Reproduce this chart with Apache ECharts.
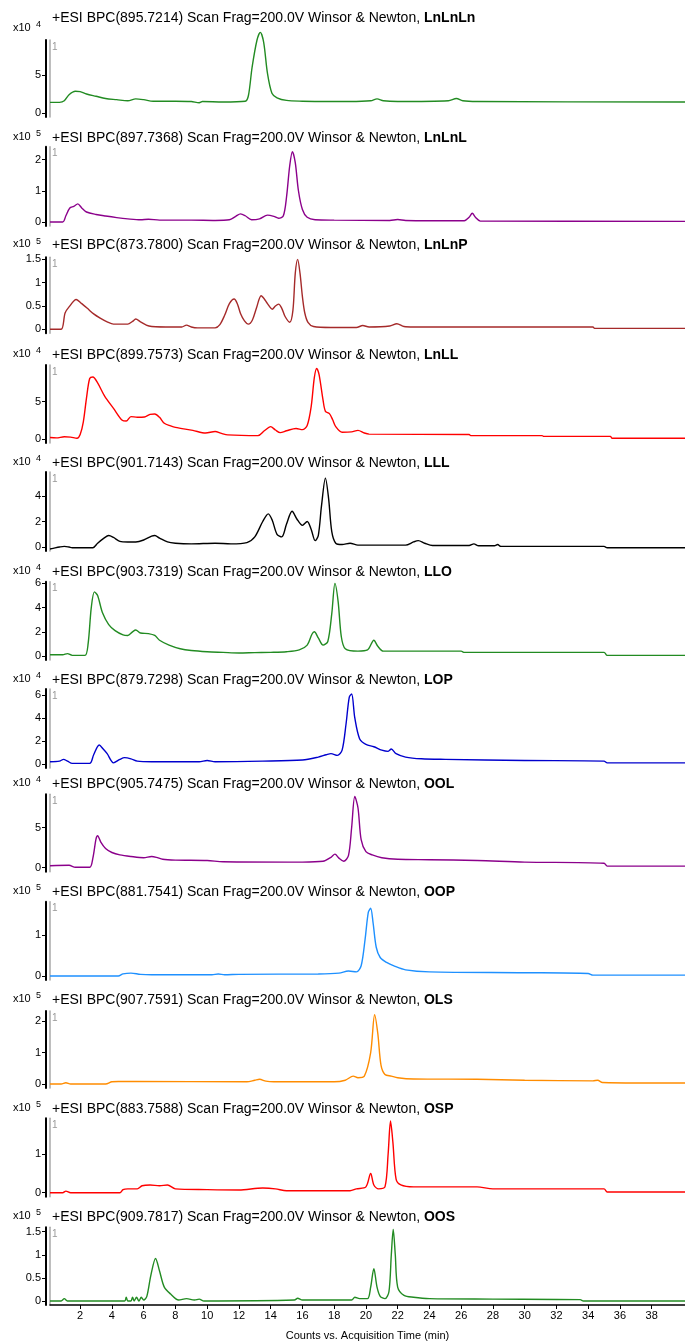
<!DOCTYPE html>
<html><head><meta charset="utf-8">
<script src="https://cdn.jsdelivr.net/npm/echarts@6/dist/echarts.min.js"></script>
<style>html,body{margin:0;padding:0;background:#fff}#c{width:685px;height:1343px}</style>
</head><body><div id="c"></div>
<script>
// ---- data ----
const compounds = ['LnLnLn','LnLnL','LnLnP','LnLL','LLL','LLO','LOP','OOL','OOP','OLS','OSP','OOS'];
const masses = ['895.7214','897.7368','873.7800','899.7573','901.7143','903.7319','879.7298','905.7475','881.7541','907.7591','883.7588','909.7817'];
const exponents = [4,5,5,4,4,4,4,4,5,5,5,5];
const yTicks = [[0,5],[0,1,2],[0,0.5,1,1.5],[0,5],[0,2,4],[0,2,4,6],[0,2,4,6],[0,5],[0,1],[0,1,2],[0,1],[0,0.5,1,1.5]];
const yMax = [9.6,2.41,1.545,9.9,5.88,6.14,6.52,9.18,1.81,2.32,1.92,1.595];
const yMin = [-0.53,-0.128,-0.086,-0.535,-0.31,-0.33,-0.35,-0.5,-0.098,-0.127,-0.103,-0.087];
const xTicks = [2,4,6,8,10,12,14,16,18,20,22,24,26,28,30,32,34,36,38];
const xRange = [0.1, 40.1];
const xName = 'Counts vs. Acquisition Time (min)';

const dLnLnLn = [[0.1,1.4],[0.7,1.4],[1.0,1.6],[1.3,2.4],[1.7,2.85],[2.0,2.8],[2.4,2.5],[3.0,2.2],[3.6,1.9],[4.3,1.75],[5.0,1.6],[5.5,1.85],[6.0,1.75],[6.6,1.55],[8,1.55],[9.0,1.5],[9.5,1.35],[9.7,1.5],[11,1.45],[12.4,1.55],[12.6,2.3],[12.83,6.0],[13.14,9.6],[13.35,10.6],[13.56,9.3],[13.8,5.2],[14.08,2.6],[14.4,2.0],[15,1.65],[16,1.55],[17.5,1.5],[19,1.5],[20.3,1.6],[20.7,1.85],[21.1,1.6],[22,1.5],[25.2,1.6],[25.7,1.9],[26.1,1.6],[27,1.5],[40.1,1.45]];
const dLnLnL = [[0.1,0],[0.9,0],[1.1,0.2],[1.35,0.45],[1.6,0.5],[1.85,0.58],[2.1,0.45],[2.4,0.32],[3.0,0.24],[3.6,0.19],[4.3,0.14],[5.0,0.1],[5.8,0.07],[6.3,0.09],[7.0,0.06],[9,0.06],[10.5,0.05],[11.4,0.07],[11.8,0.18],[12.1,0.26],[12.4,0.2],[12.8,0.07],[13.3,0.1],[13.8,0.22],[14.2,0.18],[14.5,0.12],[14.8,0.2],[15.0,0.8],[15.2,1.8],[15.37,2.25],[15.55,1.9],[15.75,1.0],[16.0,0.4],[16.3,0.15],[16.8,0.07],[18,0.06],[21.5,0.05],[22,0.08],[22.5,0.05],[26.2,0.04],[26.5,0.15],[26.7,0.28],[26.9,0.15],[27.2,0.03],[40.1,0.02]];
const dLnLnP = [[0.1,0],[0.8,0],[1.05,0.35],[1.3,0.48],[1.75,0.64],[2.1,0.55],[2.45,0.45],[2.85,0.33],[3.26,0.24],[3.7,0.16],[4.1,0.11],[5.0,0.11],[5.3,0.17],[5.5,0.22],[5.8,0.16],[6.33,0.07],[7.4,0.05],[8.4,0.05],[8.7,0.09],[9.0,0.05],[9.4,0.03],[10.5,0.03],[10.8,0.1],[11.1,0.3],[11.4,0.55],[11.7,0.65],[11.9,0.55],[12.1,0.34],[12.35,0.18],[12.6,0.11],[12.85,0.2],[13.1,0.45],[13.4,0.72],[13.6,0.65],[13.8,0.55],[14.1,0.43],[14.3,0.5],[14.5,0.54],[14.7,0.45],[14.9,0.28],[15.2,0.15],[15.4,0.4],[15.55,1.2],[15.7,1.5],[15.85,1.2],[16.0,0.7],[16.15,0.35],[16.35,0.15],[16.7,0.06],[17.8,0.04],[19.4,0.04],[19.8,0.08],[20.2,0.05],[21.5,0.07],[21.95,0.12],[22.4,0.06],[23,0.05],[34.3,0.05],[34.4,0.02],[40.1,0.02]];
const dLnLL = [[0.1,0.2],[0.5,0.15],[1.0,0.3],[1.4,0.25],[1.8,0.1],[2.0,0.6],[2.2,2.3],[2.4,5.5],[2.6,8.1],[2.8,8.3],[3.1,7.5],[3.55,5.7],[4.1,4.1],[4.65,2.5],[4.9,2.4],[5.2,3.0],[5.6,2.9],[6.05,2.95],[6.4,3.3],[6.7,3.35],[7.0,2.9],[7.3,2.1],[7.7,1.75],[8.0,1.55],[9.1,1.15],[9.9,0.8],[10.5,1.0],[10.9,0.75],[11.3,0.55],[13.2,0.45],[13.6,1.1],[14.0,1.65],[14.3,1.2],[14.6,0.85],[15.0,1.1],[15.6,1.4],[16.0,1.25],[16.3,1.8],[16.55,4.3],[16.75,8.2],[16.9,9.45],[17.05,8.6],[17.3,5.2],[17.45,3.7],[17.7,3.4],[17.9,2.6],[18.1,1.65],[18.5,0.9],[19.1,0.95],[19.5,1.15],[19.9,0.8],[20.2,0.65],[26.5,0.6],[26.6,0.45],[31.1,0.45],[31.2,0.35],[35.4,0.35],[35.5,0.1],[40.1,0.1]];
const dLLL = [[0.1,-0.15],[0.3,-0.1],[0.7,0],[1.0,0.05],[1.3,0],[1.5,-0.05],[2.8,-0.05],[3.1,0.3],[3.5,0.7],[3.8,0.9],[4.1,0.75],[4.5,0.45],[5.0,0.4],[5.5,0.4],[6.0,0.55],[6.5,0.85],[6.7,0.9],[7.0,0.7],[7.5,0.4],[8.0,0.3],[9,0.25],[10.5,0.3],[11.5,0.25],[12.5,0.35],[13.0,0.8],[13.5,2.0],[13.85,2.6],[14.1,2.1],[14.4,1.0],[14.7,0.8],[15.0,1.8],[15.35,2.8],[15.65,2.2],[16.0,1.7],[16.3,2.0],[16.55,1.4],[16.8,0.5],[17.0,0.9],[17.2,3.2],[17.45,5.4],[17.65,3.8],[17.85,1.2],[18.1,0.3],[18.5,0.2],[19,0.3],[19.5,0.15],[22.5,0.15],[23.0,0.4],[23.3,0.5],[23.7,0.3],[24.2,0.12],[26.5,0.12],[26.8,0.25],[27.1,0.1],[28.1,0.1],[28.3,0.2],[28.5,0.05],[35,0.05],[35.2,-0.05],[40.1,-0.05]];
const dLLO = [[0.1,0.1],[0.9,0.1],[1.2,0.2],[1.5,0.05],[2.3,0.05],[2.5,1.0],[2.7,4.0],[2.9,5.3],[3.1,5.0],[3.4,3.6],[3.8,2.6],[4.2,2.1],[4.7,1.75],[5.0,1.7],[5.3,2.0],[5.5,2.15],[5.8,1.9],[6.3,1.85],[6.7,1.7],[7.0,1.3],[7.6,0.9],[8.3,0.6],[9,0.45],[10,0.35],[11,0.3],[12,0.25],[13,0.28],[14,0.3],[15,0.35],[15.8,0.5],[16.3,0.9],[16.6,1.8],[16.75,2.0],[17.0,1.5],[17.3,0.9],[17.6,1.2],[17.85,3.5],[18.05,6.0],[18.25,4.5],[18.45,1.6],[18.7,0.6],[19.5,0.4],[20.1,0.5],[20.5,1.3],[20.75,0.8],[21.1,0.4],[26,0.4],[26.2,0.3],[35,0.3],[35.2,0.05],[40.1,0.05]];
const dLOP = [[0.1,0.2],[0.7,0.25],[0.95,0.4],[1.2,0.25],[1.5,0.05],[2.6,0.05],[2.85,0.8],[3.2,1.65],[3.45,1.3],[3.7,0.9],[4.1,0.1],[4.5,0.4],[4.8,0.55],[5.2,0.45],[5.6,0.25],[6.5,0.2],[9.5,0.2],[10.0,0.3],[10.5,0.2],[13.5,0.25],[16,0.35],[17.0,0.6],[17.5,0.8],[17.8,0.9],[18.2,0.75],[18.5,1.2],[18.75,3.5],[18.95,5.8],[19.1,6.1],[19.3,4.0],[19.6,2.2],[20.0,1.7],[20.5,1.5],[21.0,1.2],[21.4,1.1],[21.6,1.3],[21.9,0.9],[22.5,0.6],[23.5,0.45],[25,0.4],[30,0.3],[35,0.25],[35.2,0.1],[40.1,0.1]];
const dOOL = [[0.1,0.25],[1.3,0.3],[1.7,0.05],[2.6,0.05],[2.8,1.2],[3.0,3.6],[3.1,4.0],[3.3,3.2],[3.6,2.4],[4.0,1.9],[4.5,1.6],[5.2,1.4],[6.0,1.25],[6.5,1.4],[6.8,1.3],[7.2,1.05],[8,0.95],[10,0.9],[11,0.75],[16,0.7],[17.3,0.8],[17.8,1.3],[18.05,1.7],[18.3,1.2],[18.6,0.8],[18.9,1.5],[19.1,5.0],[19.3,8.9],[19.5,7.5],[19.7,3.5],[20.0,2.0],[20.4,1.6],[21,1.25],[22,1.05],[24,1.0],[27,0.9],[30,0.7],[35,0.55],[35.2,0.2],[40.1,0.2]];
const dOOP = [[0.1,0],[4.4,0],[4.7,0.05],[5.2,0.07],[5.8,0.04],[6.5,0.03],[10.3,0.03],[10.7,0.05],[11.1,0.03],[12,0.04],[17,0.05],[18.3,0.07],[18.9,0.12],[19.4,0.1],[19.7,0.25],[19.95,0.9],[20.15,1.55],[20.3,1.65],[20.45,1.3],[20.65,0.7],[20.9,0.45],[21.3,0.33],[21.8,0.24],[22.5,0.15],[24,0.1],[30,0.08],[34,0.06],[34.3,0.02],[40.1,0.02]];
const dOLS = [[0.1,0],[0.8,0],[1.1,0.04],[1.4,0],[3.6,0],[4.0,0.07],[4.4,0.08],[5.5,0.08],[12.5,0.07],[13.0,0.12],[13.3,0.15],[13.7,0.09],[14.2,0.07],[18,0.07],[18.7,0.12],[19.2,0.25],[19.5,0.2],[19.9,0.25],[20.3,1.0],[20.55,2.2],[20.75,1.6],[20.95,0.6],[21.2,0.3],[21.6,0.25],[22,0.2],[23,0.16],[27,0.15],[30,0.12],[34.3,0.1],[34.6,0.12],[34.9,0.05],[40.1,0.03]];
const dOSP = [[0.1,0],[0.9,0],[1.1,0.04],[1.4,0],[4.5,0],[4.7,0.08],[5.0,0.1],[5.6,0.1],[5.9,0.18],[6.4,0.2],[7.0,0.18],[7.5,0.2],[8.0,0.1],[10,0.08],[12,0.07],[13.5,0.12],[14.3,0.1],[15,0.05],[19,0.05],[19.4,0.1],[20.0,0.15],[20.3,0.5],[20.5,0.2],[20.8,0.1],[21.2,0.15],[21.4,1.0],[21.55,1.85],[21.7,1.3],[21.9,0.35],[22.2,0.2],[23,0.15],[27,0.15],[28,0.1],[35,0.1],[35.2,0.02],[40.1,0.02]];
const dOOS = [[0.1,0],[0.8,0],[1.0,0.05],[1.2,0],[4.8,0],[4.9,0.08],[5.0,0],[5.2,0],[5.3,0.08],[5.4,0],[5.55,0.08],[5.7,0],[5.85,0.08],[6.0,0.02],[6.2,0.1],[6.45,0.55],[6.75,0.92],[7.0,0.65],[7.3,0.3],[7.7,0.15],[8.2,0.02],[8.7,0.05],[9.2,0.02],[9.5,0.04],[9.8,0.0],[15.5,0.02],[15.7,0.06],[16.0,0.02],[19.1,0.02],[19.3,0.08],[19.6,0.05],[20.1,0.05],[20.3,0.3],[20.5,0.7],[20.7,0.3],[20.9,0.1],[21.2,0.05],[21.45,0.2],[21.6,1.0],[21.72,1.55],[21.85,1.0],[22.0,0.3],[22.4,0.12],[23,0.08],[24,0.05],[28,0.04],[33.5,0.03],[33.7,0.0],[40.1,0]];
const traces = [dLnLnLn,dLnLnL,dLnLnP,dLnLL,dLLL,dLLO,dLOP,dOOL,dOOP,dOLS,dOSP,dOOS];

// ---- layout / style ----
const colors = ['#228B22','#8B008B','#A52A2A','#FF0000','#000000','#228B22','#0000CD','#8B008B','#1E90FF','#FF8C00','#FF0000','#228B22'];
const baselines = [113,222,329.3,439,547,656,764,867.7,976,1084,1192.7,1301];
const tops = [40,146.7,257.3,365,472,581.7,689,794.3,901.7,1011,1118.3,1227.3];
const FONT = "'Liberation Sans', Arial, Helvetica, sans-serif";
const GL = 50;

const grids = [], xAxes = [], yAxes = [], series = [], graphics = [];
const n = compounds.length;
for (let i = 0; i < n; i++) {
  grids.push({left: GL, right: 0, top: tops[i], height: baselines[i] + 4 - tops[i]});
  const last = i === n - 1;
  xAxes.push({
    gridIndex: i, type: 'value', min: xRange[0], max: xRange[1], show: last,
    axisLine: {show: true, onZero: false, lineStyle: {color: '#000', width: 1.5}},
    axisTick: {show: true, length: 4, customValues: xTicks, lineStyle: {color: '#000'}},
    axisLabel: {customValues: xTicks, fontSize: 11, color: '#000', margin: 5, fontFamily: FONT},
    splitLine: {show: false},
    name: last ? xName : '', nameLocation: 'middle', nameGap: 25,
    nameTextStyle: {fontSize: 11, color: '#000', fontFamily: FONT}
  });
  yAxes.push({
    gridIndex: i, type: 'value', min: yMin[i], max: yMax[i], position: 'left', offset: 4,
    axisLine: {show: true, lineStyle: {color: '#000', width: 2}},
    axisTick: {show: true, length: 4, customValues: yTicks[i], lineStyle: {color: '#000', width: 1}},
    axisLabel: {customValues: yTicks[i], fontSize: 11, color: '#000', margin: 5, fontFamily: FONT},
    splitLine: {show: false}
  });
  yAxes.push({
    gridIndex: i, type: 'value', min: yMin[i], max: yMax[i], position: 'left', offset: 0,
    axisLine: {show: true, lineStyle: {color: '#a8a8a8', width: 1.5}},
    axisTick: {show: false}, axisLabel: {show: false}, splitLine: {show: false}
  });
  series.push({
    type: 'line', xAxisIndex: i, yAxisIndex: 2 * i, data: traces[i],
    showSymbol: false, smooth: 0.3, clip: false, silent: true,
    lineStyle: {color: colors[i], width: 1.4}, itemStyle: {color: colors[i]}
  });
  const ty = i === 0 ? 18 : baselines[i] - 84;
  graphics.push({
    type: 'text', x: 52, y: ty,
    style: {
      text: '{n|+ESI BPC(' + masses[i] + ') Scan Frag=200.0V Winsor & Newton, }{b|' + compounds[i] + '}',
      verticalAlign: 'middle', fill: '#000',
      rich: {
        n: {fontSize: 14, fontFamily: FONT, fill: '#000'},
        b: {fontSize: 14, fontFamily: FONT, fontWeight: 'bold', fill: '#000'}
      }
    }
  });
  const ey = baselines[i] - 85;
  graphics.push({type: 'text', x: 13, y: ey, style: {text: 'x10', font: '11px ' + FONT, fill: '#000', verticalAlign: 'middle'}});
  graphics.push({type: 'text', x: 36, y: ey - 3, style: {text: String(exponents[i]), font: '9px ' + FONT, fill: '#000', verticalAlign: 'middle'}});
  graphics.push({type: 'text', x: 52, y: tops[i] + 7, style: {text: '1', font: '10px ' + FONT, fill: '#999', verticalAlign: 'middle'}});
}

const chart = echarts.init(document.getElementById('c'), null, {renderer: 'canvas'});
chart.setOption({
  animation: false,
  backgroundColor: '#fff',
  grid: grids, xAxis: xAxes, yAxis: yAxes, series: series, graphic: graphics
});
</script></body></html>
